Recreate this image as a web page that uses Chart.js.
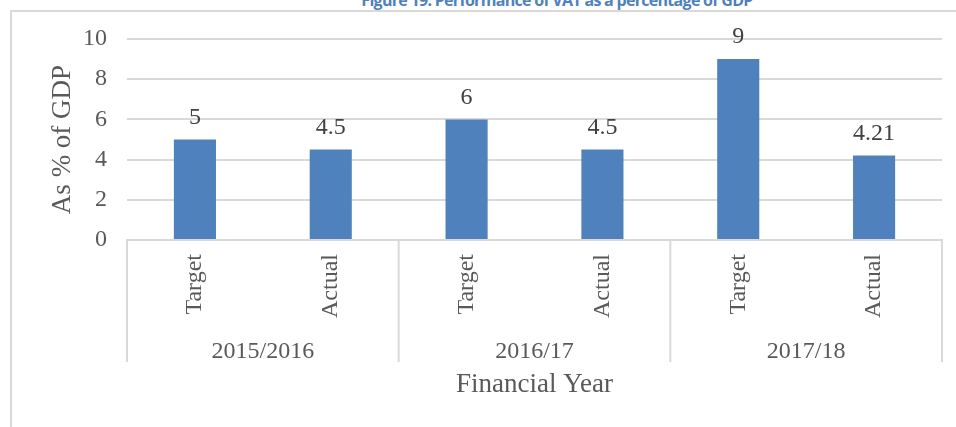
<!DOCTYPE html>
<html>
<head>
<meta charset="utf-8">
<script src="https://cdn.jsdelivr.net/npm/chart.js@4.4.1/dist/chart.umd.min.js"></script>
<style>
  html, body { margin: 0; padding: 0; background: #fff; overflow: hidden; }
  #wrap { position: relative; width: 956px; height: 427px; }
  #frame { position: absolute; left: 10px; top: 10px; right: -2px; bottom: -2px; border-top: 2px solid #d9d9d9; border-left: 2px solid #d9d9d9; }
  #title { position: absolute; left: 0; width: 1114px; top: -11px; text-align: center; font: bold 16px "Open Sans", sans-serif; letter-spacing: -0.7px; color: #4f81bd; white-space: nowrap; }
  canvas { position: absolute; left: 0; top: 0; }
</style>
</head>
<body>
<div id="wrap">
  <div id="frame"></div>
  <div id="title">Figure 19: Performance of VAT as a percentage of GDP</div>
  <canvas id="vatChart" width="956" height="427"></canvas>
</div>
<script>
const categories = ['Target', 'Actual', 'Target', 'Actual', 'Target', 'Actual'];
const years = ['2015/2016', '2016/17', '2017/18'];
const vatShare = [5, 4.5, 6, 4.5, 9, 4.21];
const yTicks = [0, 2, 4, 6, 8, 10];

const serif = '"Liberation Serif", "Times New Roman", serif';
const grey = '#595959';

// value labels above the bars
const barLabels = {
    id: 'barLabels',
    afterDatasetsDraw(chart) {
        const ctx = chart.ctx;
        const meta = chart.getDatasetMeta(0);
        ctx.save();
        ctx.font = '24px ' + serif;
        ctx.fillStyle = '#404040';
        ctx.textAlign = 'center';
        ctx.textBaseline = 'bottom';
        meta.data.forEach(function(bar, i) {
            ctx.fillText(String(vatShare[i]), bar.x, bar.y - 10);
        });
        ctx.restore();
    }
};

// group separators for the two level category axis
const groupLines = {
    id: 'groupLines',
    afterDraw(chart) {
        const x = chart.scales.x;
        const x2 = chart.scales.x2;
        const ctx = chart.ctx;
        const edges = [x.left];
        for (let g = 1; g < years.length; g++) {
            edges.push((x.getPixelForValue(g * 2 - 1) + x.getPixelForValue(g * 2)) / 2);
        }
        edges.push(x.right);
        ctx.save();
        ctx.strokeStyle = '#d9d9d9';
        ctx.lineWidth = 2;
        edges.forEach(function(px) {
            ctx.beginPath();
            ctx.moveTo(px, x.top);
            ctx.lineTo(px, x2.top + 44);
            ctx.stroke();
        });
        ctx.restore();
    }
};

const ctx = document.getElementById('vatChart').getContext('2d');
new Chart(ctx, {
    type: 'bar',
    data: {
        labels: categories,
        datasets: [{
            label: 'As % of GDP',
            data: vatShare,
            backgroundColor: '#4f81bd',
            categoryPercentage: 1,
            barPercentage: 0.31
        }]
    },
    options: {
        responsive: false,
        animation: false,
        layout: { padding: { top: 39, right: 14, bottom: 0, left: 0 } },
        plugins: { legend: { display: false }, tooltip: { enabled: false } },
        scales: {
            y: {
                min: 0,
                max: 10,
                afterBuildTicks(scale) { scale.ticks = yTicks.map(v => ({ value: v })); },
                afterFit(scale) { scale.width = 127; },
                ticks: { font: { family: serif, size: 24 }, color: grey, padding: 20 },
                grid: { color: '#d9d9d9', lineWidth: 2, drawTicks: false },
                border: { display: false },
                title: {
                    display: true,
                    text: 'As % of GDP',
                    font: { family: serif, size: 27 },
                    color: grey,
                    padding: { top: 47, bottom: 0 }
                }
            },
            x: {
                afterFit(scale) { scale.height = 78; },
                ticks: {
                    font: { family: serif, size: 24 },
                    color: grey,
                    minRotation: 90,
                    maxRotation: 90,
                    autoSkip: false,
                    padding: 14
                },
                grid: { display: false, drawTicks: false },
                border: { display: true, color: '#d9d9d9', width: 2 }
            },
            x2: {
                type: 'category',
                labels: years,
                position: 'bottom',
                afterFit(scale) { scale.height = 109; },
                ticks: { font: { family: serif, size: 24 }, color: grey, padding: 19 },
                grid: { display: false, drawTicks: false },
                border: { display: false },
                title: {
                    display: true,
                    text: 'Financial Year',
                    font: { family: serif, size: 27 },
                    color: grey,
                    padding: { top: 0, bottom: 26 }
                }
            }
        }
    },
    plugins: [barLabels, groupLines]
});
</script>
</body>
</html>
